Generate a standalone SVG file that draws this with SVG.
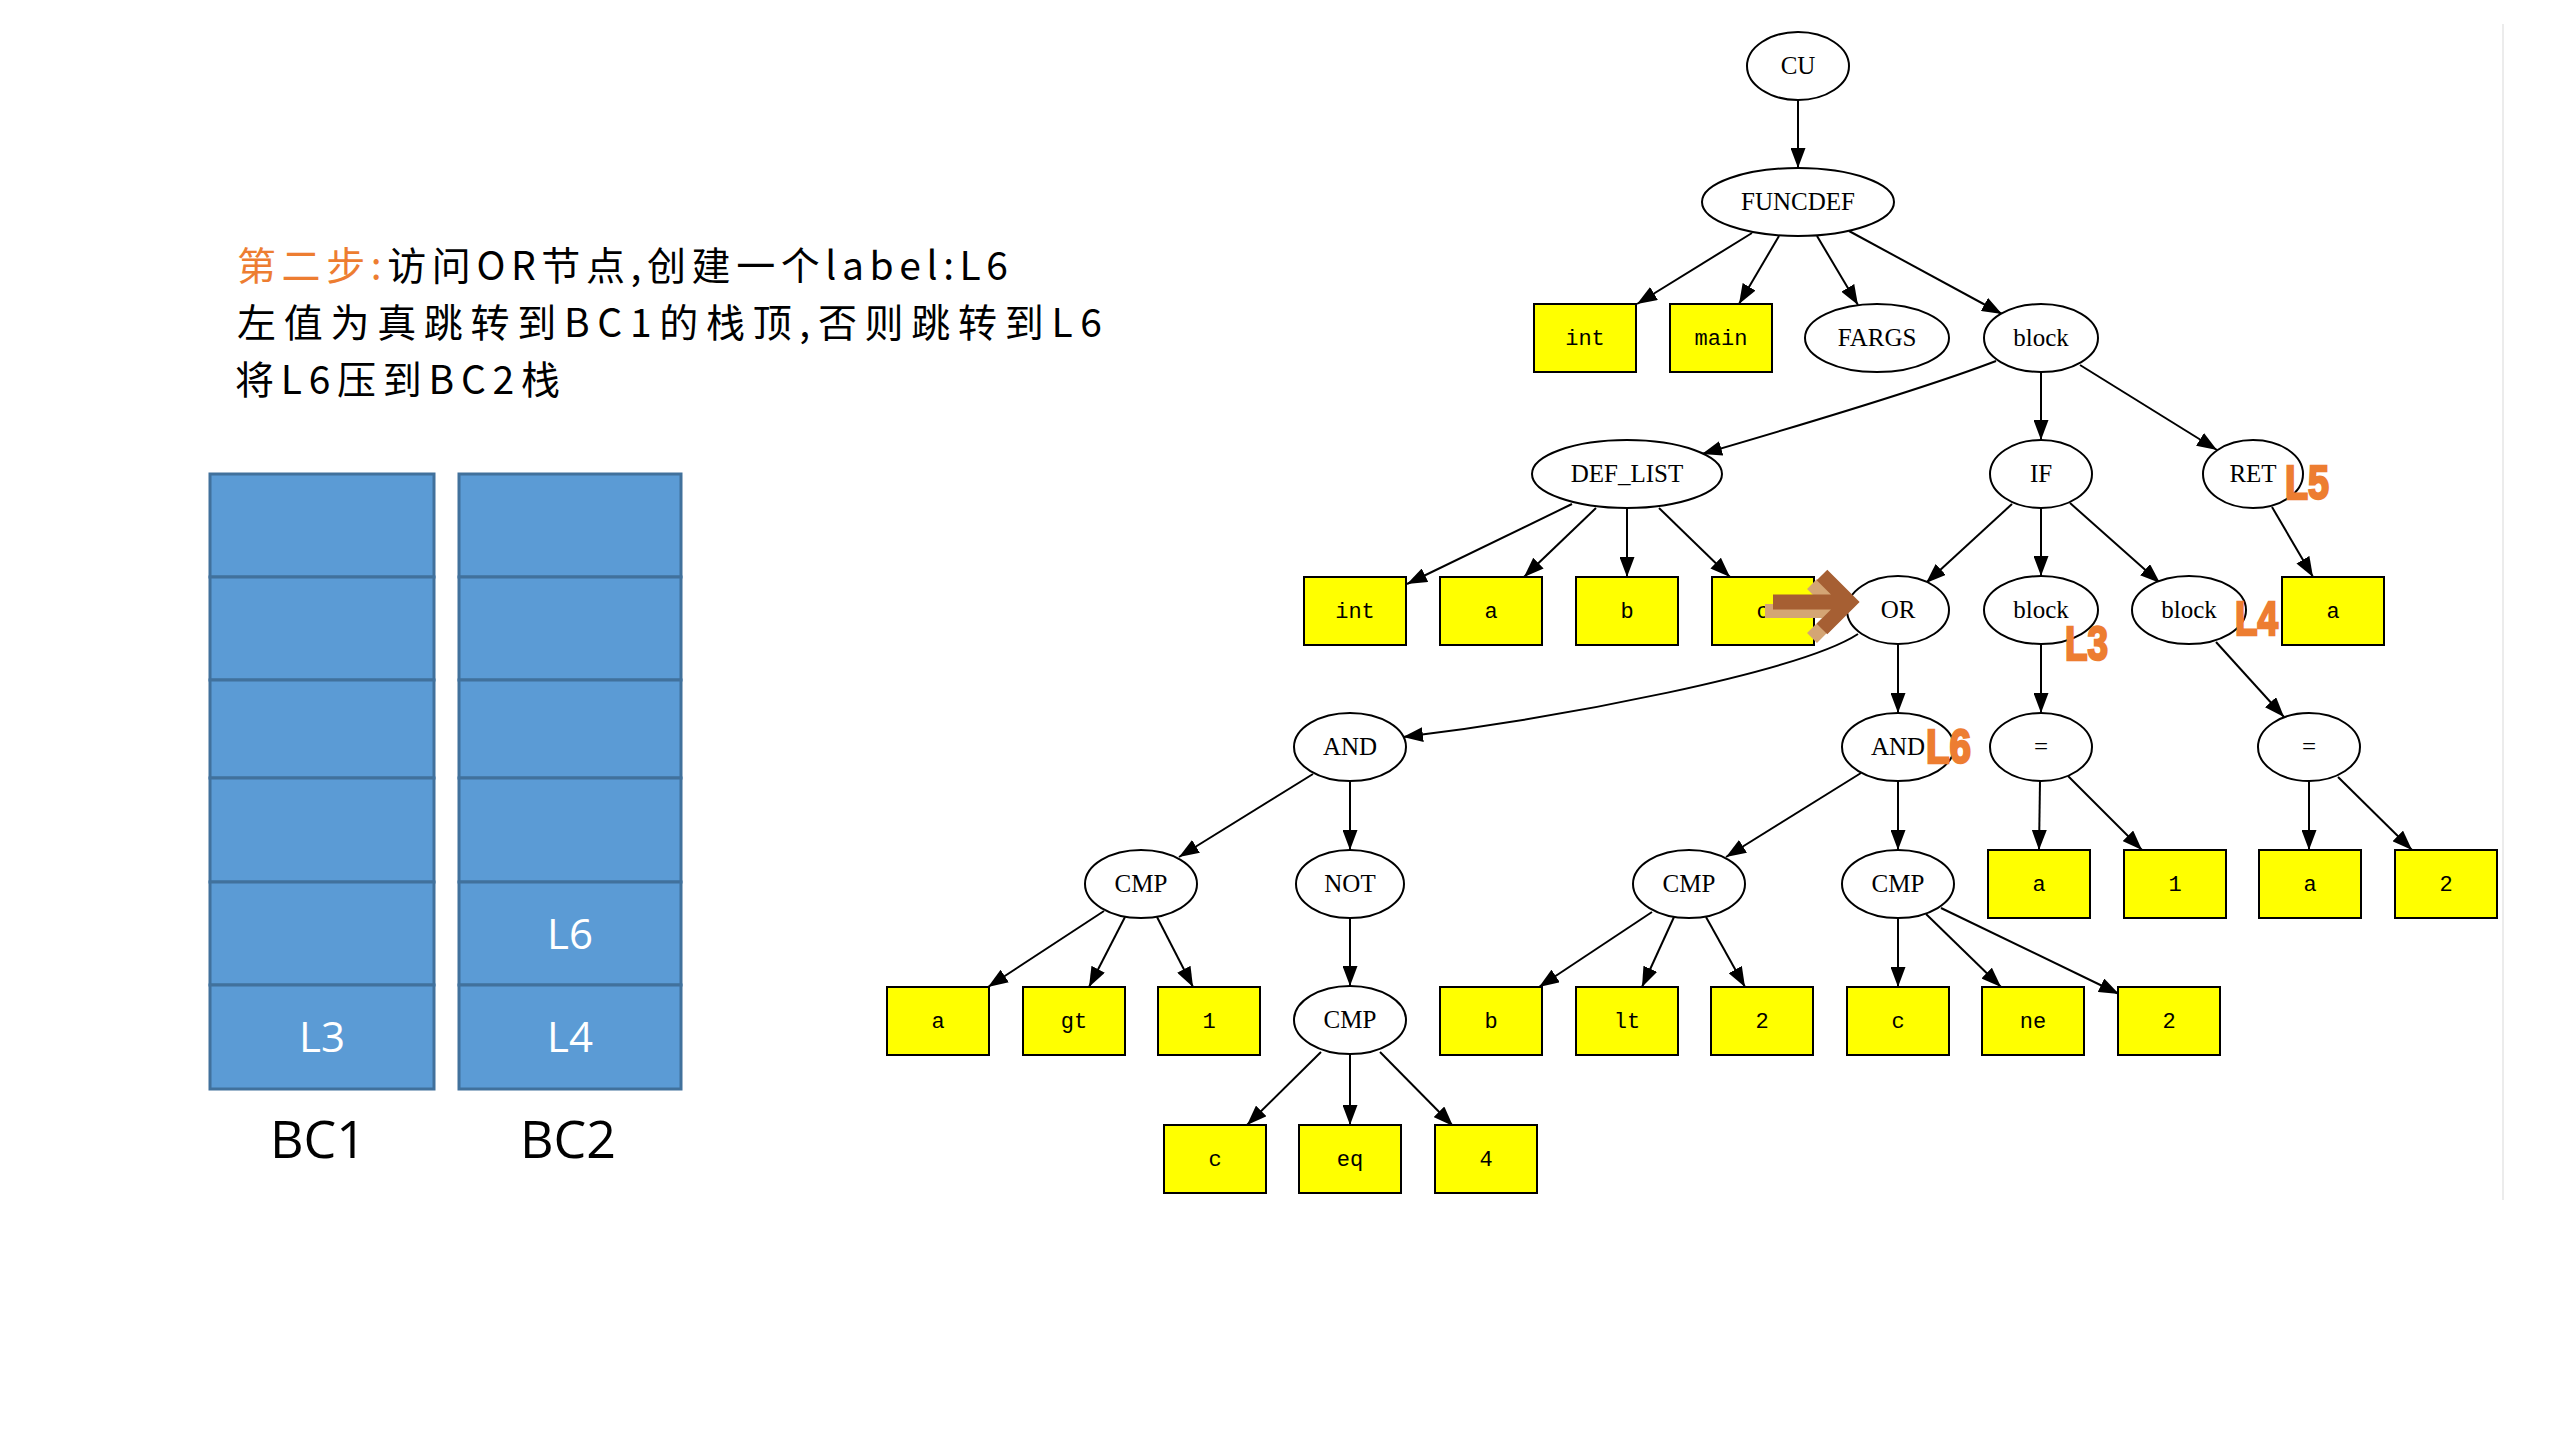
<svg xmlns="http://www.w3.org/2000/svg" width="2560" height="1440" viewBox="0 0 2560 1440">
<defs>
<marker id="ah" markerUnits="userSpaceOnUse" markerWidth="20" markerHeight="15" viewBox="0 0 20 15" refX="20" refY="7.5" orient="auto">
<path d="M0,0 L20,7.5 L0,15 z" fill="#000"/>
</marker>
<style>
.n ellipse{fill:#fff;stroke:#000;stroke-width:2}
.b rect{fill:#ff0;stroke:#000;stroke-width:2}
.t{font-family:"Liberation Serif",serif;font-size:25px;text-anchor:middle;fill:#000}
.m{font-family:"Liberation Mono",monospace;font-size:22px;text-anchor:middle;fill:#000}
.e path{fill:none;stroke:#000;stroke-width:2;marker-end:url(#ah)}
.lab{font-family:"Liberation Sans",sans-serif;font-weight:bold;font-size:48px;fill:#ED7D31;stroke:#ED7D31;stroke-width:2.5}
.cell{fill:#5B9BD5;stroke:#41719C;stroke-width:3}
.st{font-family:"Open Sans","Noto Sans",sans-serif;font-size:42px;fill:#fff;text-anchor:middle}
.sl{font-family:"Open Sans","Noto Sans",sans-serif;font-size:52px;fill:#000;text-anchor:middle}
.hd{font-family:"Noto Sans CJK SC",sans-serif;font-size:39px;fill:#000}
</style>
</defs>
<rect width="2560" height="1440" fill="#fff"/>
<line x1="2503" y1="24" x2="2503" y2="1200" stroke="#ececec" stroke-width="2"/>

<g id="heading">
<text class="hd" x="237" y="280" textLength="771" lengthAdjust="spacing"><tspan fill="#ED7D31">第二步:</tspan>访问OR节点,创建一个label:L6</text>
<text class="hd" x="237" y="337" textLength="865" lengthAdjust="spacing">左值为真跳转到BC1的栈顶,否则跳转到L6</text>
<text class="hd" x="235" y="394" textLength="325" lengthAdjust="spacing">将L6压到BC2栈</text>
</g>

<g id="stack-BC1">
<rect class="cell" x="210" y="474" width="224" height="103"/>
<rect class="cell" x="210" y="577" width="224" height="103"/>
<rect class="cell" x="210" y="680" width="224" height="98"/>
<rect class="cell" x="210" y="778" width="224" height="104"/>
<rect class="cell" x="210" y="882" width="224" height="103"/>
<rect class="cell" x="210" y="985" width="224" height="104"/>
<text class="st" x="322" y="1052">L3</text>
<text class="sl" x="318" y="1158">BC1</text>
</g>
<g id="stack-BC2">
<rect class="cell" x="459" y="474" width="222" height="103"/>
<rect class="cell" x="459" y="577" width="222" height="103"/>
<rect class="cell" x="459" y="680" width="222" height="98"/>
<rect class="cell" x="459" y="778" width="222" height="104"/>
<rect class="cell" x="459" y="882" width="222" height="103"/>
<rect class="cell" x="459" y="985" width="222" height="104"/>
<text class="st" x="570" y="949">L6</text>
<text class="st" x="570" y="1052">L4</text>
<text class="sl" x="568" y="1158">BC2</text>
</g>

<g id="connectors" class="e">
<path d="M1798,100 L1798,168"/>
<path d="M1752,233 L1637,304"/>
<path d="M1779,236 L1739,304"/>
<path d="M1817,236 L1858,305"/>
<path d="M1849,231 L2002,314"/>
<path d="M1996,361 Q1918,391 1702,454"/>
<path d="M2041,372 L2041,440"/>
<path d="M2080,365 L2217,450"/>
<path d="M1572,504 L1407,584"/>
<path d="M1596,508 L1524,577"/>
<path d="M1627,508 L1627,577"/>
<path d="M1659,508 L1730,577"/>
<path d="M2012,504 L1926,583"/>
<path d="M2041,508 L2041,576"/>
<path d="M2070,503 L2160,583"/>
<path d="M2272,507 L2313,577"/>
<path d="M1858,634 C1800,672 1560,718 1403,737"/>
<path d="M1898,644 L1898,713"/>
<path d="M2041,644 L2041,713"/>
<path d="M2216,642 L2284,717"/>
<path d="M1313,774 L1179,857"/>
<path d="M1350,781 L1350,850"/>
<path d="M1861,773 L1726,857"/>
<path d="M1898,781 L1898,850"/>
<path d="M2040,781 L2039,850"/>
<path d="M2068,776 L2142,850"/>
<path d="M2309,781 L2309,850"/>
<path d="M2338,777 L2412,850"/>
<path d="M1104,911 L988,987"/>
<path d="M1125,917 L1089,987"/>
<path d="M1157,917 L1193,987"/>
<path d="M1350,918 L1350,986"/>
<path d="M1652,912 L1539,987"/>
<path d="M1674,917 L1642,987"/>
<path d="M1706,917 L1745,987"/>
<path d="M1898,918 L1898,987"/>
<path d="M1926,914 L2001,987"/>
<path d="M1941,908 L2119,994"/>
<path d="M1321,1052 L1247,1125"/>
<path d="M1350,1054 L1350,1125"/>
<path d="M1380,1052 L1453,1126"/>
</g>

<g id="n-CU" class="n"><ellipse cx="1798" cy="66" rx="51" ry="34"/><text class="t" x="1798" y="74">CU</text></g>
<g id="n-FUNCDEF" class="n"><ellipse cx="1798" cy="202" rx="96" ry="34"/><text class="t" x="1798" y="210">FUNCDEF</text></g>
<g id="n-FARGS" class="n"><ellipse cx="1877" cy="338" rx="72" ry="34"/><text class="t" x="1877" y="346">FARGS</text></g>
<g id="n-block1" class="n"><ellipse cx="2041" cy="338" rx="57" ry="34"/><text class="t" x="2041" y="346">block</text></g>
<g id="n-DEF_LIST" class="n"><ellipse cx="1627" cy="474" rx="95" ry="34"/><text class="t" x="1627" y="482">DEF_LIST</text></g>
<g id="n-IF" class="n"><ellipse cx="2041" cy="474" rx="51" ry="34"/><text class="t" x="2041" y="482">IF</text></g>
<g id="n-RET" class="n"><ellipse cx="2253" cy="474" rx="50" ry="34"/><text class="t" x="2253" y="482">RET</text></g>
<g id="n-OR" class="n"><ellipse cx="1898" cy="610" rx="51" ry="34"/><text class="t" x="1898" y="618">OR</text></g>
<g id="n-block2" class="n"><ellipse cx="2041" cy="610" rx="57" ry="34"/><text class="t" x="2041" y="618">block</text></g>
<g id="n-block3" class="n"><ellipse cx="2189" cy="610" rx="57" ry="34"/><text class="t" x="2189" y="618">block</text></g>
<g id="n-AND1" class="n"><ellipse cx="1350" cy="747" rx="56" ry="34"/><text class="t" x="1350" y="755">AND</text></g>
<g id="n-AND2" class="n"><ellipse cx="1898" cy="747" rx="56" ry="34"/><text class="t" x="1898" y="755">AND</text></g>
<g id="n-EQ1" class="n"><ellipse cx="2041" cy="747" rx="51" ry="34"/><text class="t" x="2041" y="755">=</text></g>
<g id="n-EQ2" class="n"><ellipse cx="2309" cy="747" rx="51" ry="34"/><text class="t" x="2309" y="755">=</text></g>
<g id="n-CMP1" class="n"><ellipse cx="1141" cy="884" rx="56" ry="34"/><text class="t" x="1141" y="892">CMP</text></g>
<g id="n-NOT" class="n"><ellipse cx="1350" cy="884" rx="54" ry="34"/><text class="t" x="1350" y="892">NOT</text></g>
<g id="n-CMP2" class="n"><ellipse cx="1689" cy="884" rx="56" ry="34"/><text class="t" x="1689" y="892">CMP</text></g>
<g id="n-CMP3" class="n"><ellipse cx="1898" cy="884" rx="56" ry="34"/><text class="t" x="1898" y="892">CMP</text></g>
<g id="n-CMP4" class="n"><ellipse cx="1350" cy="1020" rx="56" ry="34"/><text class="t" x="1350" y="1028">CMP</text></g>

<g id="b-int1" class="b"><rect x="1534" y="304" width="102" height="68"/><text class="m" x="1585" y="345">int</text></g>
<g id="b-main" class="b"><rect x="1670" y="304" width="102" height="68"/><text class="m" x="1721" y="345">main</text></g>
<g id="b-int2" class="b"><rect x="1304" y="577" width="102" height="68"/><text class="m" x="1355" y="618">int</text></g>
<g id="b-a1" class="b"><rect x="1440" y="577" width="102" height="68"/><text class="m" x="1491" y="618">a</text></g>
<g id="b-b1" class="b"><rect x="1576" y="577" width="102" height="68"/><text class="m" x="1627" y="618">b</text></g>
<g id="b-c1" class="b"><rect x="1712" y="577" width="102" height="68"/><text class="m" x="1763" y="618">c</text></g>
<g id="b-aRet" class="b"><rect x="2282" y="577" width="102" height="68"/><text class="m" x="2333" y="618">a</text></g>
<g id="b-a2" class="b"><rect x="1988" y="850" width="102" height="68"/><text class="m" x="2039" y="891">a</text></g>
<g id="b-one1" class="b"><rect x="2124" y="850" width="102" height="68"/><text class="m" x="2175" y="891">1</text></g>
<g id="b-a3" class="b"><rect x="2259" y="850" width="102" height="68"/><text class="m" x="2310" y="891">a</text></g>
<g id="b-two1" class="b"><rect x="2395" y="850" width="102" height="68"/><text class="m" x="2446" y="891">2</text></g>
<g id="b-a4" class="b"><rect x="887" y="987" width="102" height="68"/><text class="m" x="938" y="1028">a</text></g>
<g id="b-gt" class="b"><rect x="1023" y="987" width="102" height="68"/><text class="m" x="1074" y="1028">gt</text></g>
<g id="b-one2" class="b"><rect x="1158" y="987" width="102" height="68"/><text class="m" x="1209" y="1028">1</text></g>
<g id="b-b2" class="b"><rect x="1440" y="987" width="102" height="68"/><text class="m" x="1491" y="1028">b</text></g>
<g id="b-lt" class="b"><rect x="1576" y="987" width="102" height="68"/><text class="m" x="1627" y="1028">lt</text></g>
<g id="b-two2" class="b"><rect x="1711" y="987" width="102" height="68"/><text class="m" x="1762" y="1028">2</text></g>
<g id="b-c2" class="b"><rect x="1847" y="987" width="102" height="68"/><text class="m" x="1898" y="1028">c</text></g>
<g id="b-ne" class="b"><rect x="1982" y="987" width="102" height="68"/><text class="m" x="2033" y="1028">ne</text></g>
<g id="b-two3" class="b"><rect x="2118" y="987" width="102" height="68"/><text class="m" x="2169" y="1028">2</text></g>
<g id="b-c3" class="b"><rect x="1164" y="1125" width="102" height="68"/><text class="m" x="1215" y="1166">c</text></g>
<g id="b-eq" class="b"><rect x="1299" y="1125" width="102" height="68"/><text class="m" x="1350" y="1166">eq</text></g>
<g id="b-four" class="b"><rect x="1435" y="1125" width="102" height="68"/><text class="m" x="1486" y="1166">4</text></g>

<g id="labels">
<text class="lab" x="2285" y="499" textLength="44" lengthAdjust="spacingAndGlyphs">L5</text>
<text class="lab" x="2065" y="660" textLength="43" lengthAdjust="spacingAndGlyphs">L3</text>
<text class="lab" x="2235" y="635" textLength="43" lengthAdjust="spacingAndGlyphs">L4</text>
<text class="lab" x="1926" y="763" textLength="45" lengthAdjust="spacingAndGlyphs">L6</text>
</g>

<g id="pointer" fill="none" stroke-linejoin="miter" stroke-miterlimit="4">
<path d="M1765,611 L1838,611 M1812,584 L1839,611 L1812,638" stroke="#D4A574" stroke-width="14"/>
<path d="M1773,602 L1847,602 M1822,575 L1849,602 L1822,629" stroke="#A65F33" stroke-width="15"/>
</g>
</svg>
